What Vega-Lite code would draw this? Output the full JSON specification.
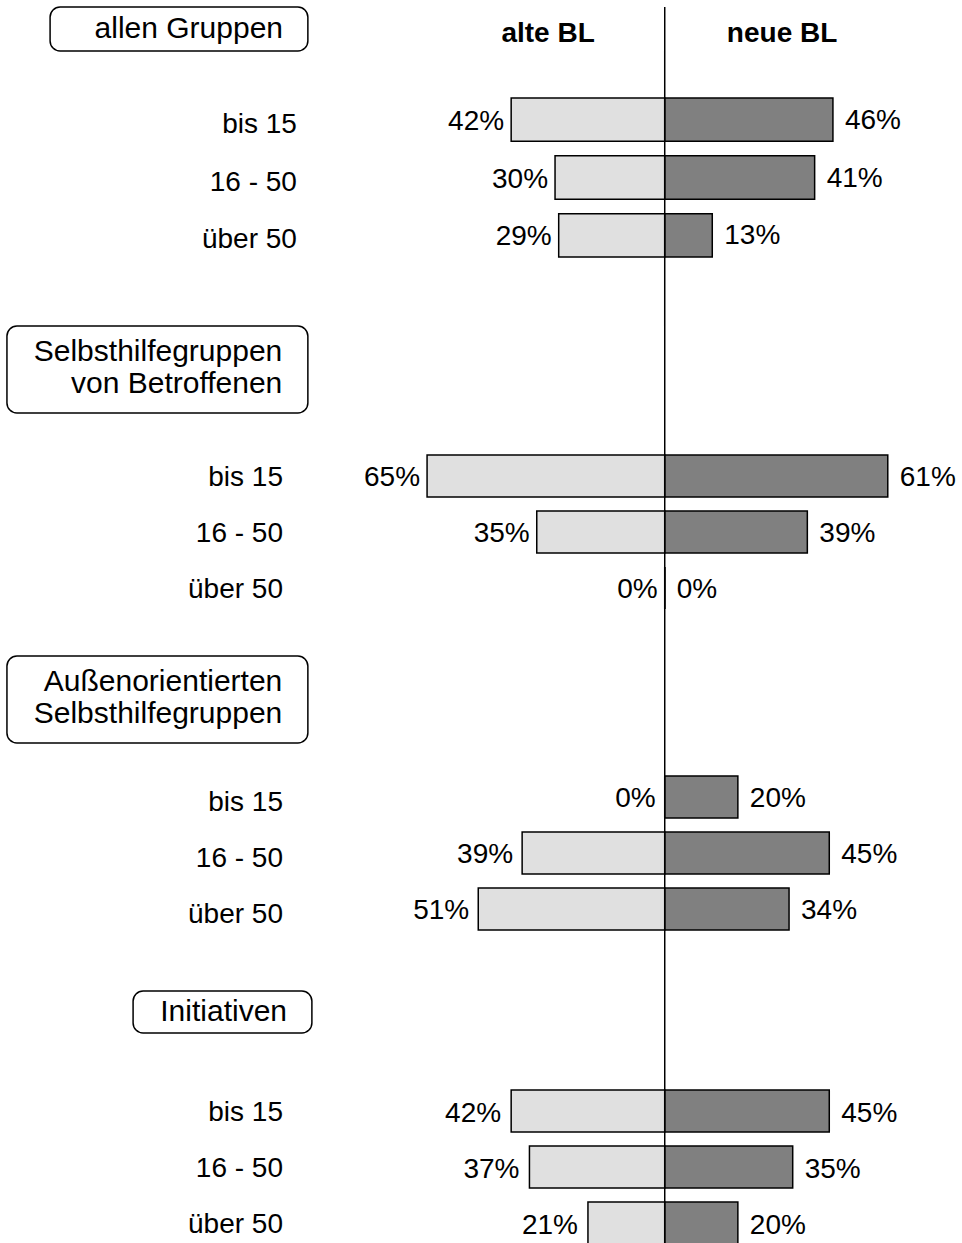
{
  "$schema": "https://vega.github.io/schema/vega-lite/v6.json",
  "background": "white",
  "padding": {"top": 6, "left": 0, "right": 0, "bottom": 0},
  "spacing": 0,
  "bounds": "flush",
  "config": {
    "view": {"stroke": null},
    "concat": {"spacing": 0},
    "text": {"font": "Liberation Sans", "fontSize": 28, "color": "black", "baseline": "middle"}
  },
  "datasets": {
    "bars": [
      {"gruppe": "allen Gruppen", "alter": "bis 15", "region": "alte BL", "anteil": 0.42},
      {"gruppe": "allen Gruppen", "alter": "16 - 50", "region": "alte BL", "anteil": 0.30},
      {"gruppe": "allen Gruppen", "alter": "über 50", "region": "alte BL", "anteil": 0.29},
      {"gruppe": "allen Gruppen", "alter": "bis 15", "region": "neue BL", "anteil": 0.46},
      {"gruppe": "allen Gruppen", "alter": "16 - 50", "region": "neue BL", "anteil": 0.41},
      {"gruppe": "allen Gruppen", "alter": "über 50", "region": "neue BL", "anteil": 0.13},
      {"gruppe": "Selbsthilfegruppen von Betroffenen", "alter": "bis 15", "region": "alte BL", "anteil": 0.65},
      {"gruppe": "Selbsthilfegruppen von Betroffenen", "alter": "16 - 50", "region": "alte BL", "anteil": 0.35},
      {"gruppe": "Selbsthilfegruppen von Betroffenen", "alter": "über 50", "region": "alte BL", "anteil": 0},
      {"gruppe": "Selbsthilfegruppen von Betroffenen", "alter": "bis 15", "region": "neue BL", "anteil": 0.61},
      {"gruppe": "Selbsthilfegruppen von Betroffenen", "alter": "16 - 50", "region": "neue BL", "anteil": 0.39},
      {"gruppe": "Selbsthilfegruppen von Betroffenen", "alter": "über 50", "region": "neue BL", "anteil": 0},
      {"gruppe": "Außenorientierten Selbsthilfegruppen", "alter": "bis 15", "region": "alte BL", "anteil": 0},
      {"gruppe": "Außenorientierten Selbsthilfegruppen", "alter": "16 - 50", "region": "alte BL", "anteil": 0.39},
      {"gruppe": "Außenorientierten Selbsthilfegruppen", "alter": "über 50", "region": "alte BL", "anteil": 0.51},
      {"gruppe": "Außenorientierten Selbsthilfegruppen", "alter": "bis 15", "region": "neue BL", "anteil": 0.20},
      {"gruppe": "Außenorientierten Selbsthilfegruppen", "alter": "16 - 50", "region": "neue BL", "anteil": 0.45},
      {"gruppe": "Außenorientierten Selbsthilfegruppen", "alter": "über 50", "region": "neue BL", "anteil": 0.34},
      {"gruppe": "Initiativen", "alter": "bis 15", "region": "alte BL", "anteil": 0.42},
      {"gruppe": "Initiativen", "alter": "16 - 50", "region": "alte BL", "anteil": 0.37},
      {"gruppe": "Initiativen", "alter": "über 50", "region": "alte BL", "anteil": 0.21},
      {"gruppe": "Initiativen", "alter": "bis 15", "region": "neue BL", "anteil": 0.45},
      {"gruppe": "Initiativen", "alter": "16 - 50", "region": "neue BL", "anteil": 0.35},
      {"gruppe": "Initiativen", "alter": "über 50", "region": "neue BL", "anteil": 0.20}
    ]
  },
  "vconcat": [
    {
      "width": 962, "height": 44,
      "data": {"values": [{"titel": "allen Gruppen", "links": "alte BL", "rechts": "neue BL"}]},
      "layer": [
        {
          "encoding": {"x": {"datum": 1.681, "type": "quantitative", "scale": {"domain": [-0.813, 1.818], "reverse": true, "nice": false, "zero": false}, "axis": null}},
          "layer": [
            {"mark": {"type": "rect", "fill": "white", "stroke": "black", "strokeWidth": 1.5, "cornerRadius": 10}, "encoding": {"x2": {"datum": 0.976}}},
            {"mark": {"type": "text", "align": "right", "fontSize": 30}, "encoding": {"x": {"datum": 1.044, "type": "quantitative"}, "text": {"field": "titel"}}},
            {"mark": {"type": "text", "align": "center", "fontWeight": "bold", "fontSize": 28, "dy": 5}, "encoding": {"x": {"datum": 0.319, "type": "quantitative"}, "text": {"field": "links"}}}
          ]
        },
        {
          "encoding": {"x": {"datum": 0, "type": "quantitative", "scale": {"domain": [-1.818, 0.813], "nice": false, "zero": false}, "axis": null}},
          "layer": [
            {"mark": {"type": "rule", "color": "black", "strokeWidth": 1.5}, "encoding": {}},
            {"mark": {"type": "text", "align": "center", "fontWeight": "bold", "fontSize": 28, "dy": 5}, "encoding": {"x": {"datum": 0.321, "type": "quantitative"}, "text": {"field": "rechts"}}}
          ]
        }
      ],
      "resolve": {"scale": {"x": "independent"}}
    },
    {
      "width": 962, "height": 275,
      "data": {"name": "bars"},
      "transform": [{"filter": "datum.gruppe == 'allen Gruppen'"}],
      "layer": [
        {
          "transform": [{"filter": "datum.region == 'alte BL'"}],
          "encoding": {
            "y": {"field": "alter", "type": "nominal", "scale": {"domain": ["bis 15", "16 - 50", "über 50"], "paddingInner": 0.25, "paddingOuter": 1.0804, "align": 0.405}, "axis": null},
            "x": {"field": "anteil", "type": "quantitative", "scale": {"domain": [-0.813, 1.818], "reverse": true, "nice": false, "zero": false}, "axis": null}
          },
          "layer": [
            {"mark": {"type": "bar", "fill": "#e0e0e0", "stroke": "black", "strokeWidth": 1.5}, "encoding": {"x2": {"datum": 0}}},
            {"mark": {"type": "text", "align": "right", "dx": -7, "dy": 2}, "encoding": {"text": {"field": "anteil", "type": "quantitative", "format": ".0%"}}},
            {"mark": {"type": "text", "align": "right", "dy": 5}, "encoding": {"x": {"datum": 1.006, "type": "quantitative"}, "text": {"field": "alter"}}}
          ]
        },
        {
          "transform": [{"filter": "datum.region == 'neue BL'"}],
          "encoding": {
            "y": {"field": "alter", "type": "nominal", "scale": {"domain": ["bis 15", "16 - 50", "über 50"], "paddingInner": 0.25, "paddingOuter": 1.0804, "align": 0.405}, "axis": null},
            "x": {"field": "anteil", "type": "quantitative", "scale": {"domain": [-1.818, 0.813], "nice": false, "zero": false}, "axis": null}
          },
          "layer": [
            {"mark": {"type": "bar", "fill": "#808080", "stroke": "black", "strokeWidth": 1.5}, "encoding": {"x2": {"datum": 0}}},
            {"mark": {"type": "text", "align": "left", "dx": 12, "dy": 1}, "encoding": {"text": {"field": "anteil", "type": "quantitative", "format": ".0%"}}}
          ]
        },
        {
          "data": {"values": [{"linie": "Mitte"}]},
          "mark": {"type": "rule", "color": "black", "strokeWidth": 1.5},
          "encoding": {"x": {"datum": 0, "type": "quantitative", "scale": {"domain": [-1.818, 0.813], "nice": false, "zero": false}, "axis": null}}
        }
      ],
      "resolve": {"scale": {"x": "independent"}}
    },
    {
      "width": 962, "height": 87,
      "data": {"values": [{"titel": "Selbsthilfegruppen\nvon Betroffenen"}]},
      "layer": [
        {
          "encoding": {"x": {"datum": 1.799, "type": "quantitative", "scale": {"domain": [-0.813, 1.818], "reverse": true, "nice": false, "zero": false}, "axis": null}},
          "layer": [
            {"mark": {"type": "rect", "fill": "white", "stroke": "black", "strokeWidth": 1.5, "cornerRadius": 10}, "encoding": {"x2": {"datum": 0.976}}},
            {"mark": {"type": "text", "align": "right", "fontSize": 30, "lineBreak": "\n", "lineHeight": 32, "dy": -18}, "encoding": {"x": {"datum": 1.046, "type": "quantitative"}, "text": {"field": "titel"}}}
          ]
        },
        {
          "encoding": {"x": {"datum": 0, "type": "quantitative", "scale": {"domain": [-1.818, 0.813], "nice": false, "zero": false}, "axis": null}},
          "layer": [
            {"mark": {"type": "rule", "color": "black", "strokeWidth": 1.5}, "encoding": {}}
          ]
        }
      ],
      "resolve": {"scale": {"x": "independent"}}
    },
    {
      "width": 962, "height": 243,
      "data": {"name": "bars"},
      "transform": [{"filter": "datum.gruppe == 'Selbsthilfegruppen von Betroffenen'"}],
      "layer": [
        {
          "transform": [{"filter": "datum.region == 'alte BL'"}],
          "encoding": {
            "y": {"field": "alter", "type": "nominal", "scale": {"domain": ["bis 15", "16 - 50", "über 50"], "paddingInner": 0.25, "paddingOuter": 0.7946, "align": 0.472}, "axis": null},
            "x": {"field": "anteil", "type": "quantitative", "scale": {"domain": [-0.813, 1.818], "reverse": true, "nice": false, "zero": false}, "axis": null}
          },
          "layer": [
            {"mark": {"type": "bar", "fill": "#e0e0e0", "stroke": "black", "strokeWidth": 1.5}, "encoding": {"x2": {"datum": 0}}},
            {"mark": {"type": "text", "align": "right", "dx": -7, "dy": 2}, "encoding": {"text": {"field": "anteil", "type": "quantitative", "format": ".0%"}}},
            {"mark": {"type": "text", "align": "right", "dy": 2}, "encoding": {"x": {"datum": 1.044, "type": "quantitative"}, "text": {"field": "alter"}}}
          ]
        },
        {
          "transform": [{"filter": "datum.region == 'neue BL'"}],
          "encoding": {
            "y": {"field": "alter", "type": "nominal", "scale": {"domain": ["bis 15", "16 - 50", "über 50"], "paddingInner": 0.25, "paddingOuter": 0.7946, "align": 0.472}, "axis": null},
            "x": {"field": "anteil", "type": "quantitative", "scale": {"domain": [-1.818, 0.813], "nice": false, "zero": false}, "axis": null}
          },
          "layer": [
            {"mark": {"type": "bar", "fill": "#808080", "stroke": "black", "strokeWidth": 1.5}, "encoding": {"x2": {"datum": 0}}},
            {"mark": {"type": "text", "align": "left", "dx": 12, "dy": 2}, "encoding": {"text": {"field": "anteil", "type": "quantitative", "format": ".0%"}}}
          ]
        },
        {
          "data": {"values": [{"linie": "Mitte"}]},
          "mark": {"type": "rule", "color": "black", "strokeWidth": 1.5},
          "encoding": {"x": {"datum": 0, "type": "quantitative", "scale": {"domain": [-1.818, 0.813], "nice": false, "zero": false}, "axis": null}}
        }
      ],
      "resolve": {"scale": {"x": "independent"}}
    },
    {
      "width": 962, "height": 87,
      "data": {"values": [{"titel": "Außenorientierten\nSelbsthilfegruppen"}]},
      "layer": [
        {
          "encoding": {"x": {"datum": 1.799, "type": "quantitative", "scale": {"domain": [-0.813, 1.818], "reverse": true, "nice": false, "zero": false}, "axis": null}},
          "layer": [
            {"mark": {"type": "rect", "fill": "white", "stroke": "black", "strokeWidth": 1.5, "cornerRadius": 10}, "encoding": {"x2": {"datum": 0.976}}},
            {"mark": {"type": "text", "align": "right", "fontSize": 30, "lineBreak": "\n", "lineHeight": 32, "dy": -18}, "encoding": {"x": {"datum": 1.046, "type": "quantitative"}, "text": {"field": "titel"}}}
          ]
        },
        {
          "encoding": {"x": {"datum": 0, "type": "quantitative", "scale": {"domain": [-1.818, 0.813], "nice": false, "zero": false}, "axis": null}},
          "layer": [
            {"mark": {"type": "rule", "color": "black", "strokeWidth": 1.5}, "encoding": {}}
          ]
        }
      ],
      "resolve": {"scale": {"x": "independent"}}
    },
    {
      "width": 962, "height": 248,
      "data": {"name": "bars"},
      "transform": [{"filter": "datum.gruppe == 'Außenorientierten Selbsthilfegruppen'"}],
      "layer": [
        {
          "transform": [{"filter": "datum.region == 'alte BL'"}],
          "encoding": {
            "y": {"field": "alter", "type": "nominal", "scale": {"domain": ["bis 15", "16 - 50", "über 50"], "paddingInner": 0.25, "paddingOuter": 0.8393, "align": 0.351}, "axis": null},
            "x": {"field": "anteil", "type": "quantitative", "scale": {"domain": [-0.813, 1.818], "reverse": true, "nice": false, "zero": false}, "axis": null}
          },
          "layer": [
            {"mark": {"type": "bar", "fill": "#e0e0e0", "stroke": "black", "strokeWidth": 1.5}, "encoding": {"x2": {"datum": 0}}},
            {"mark": {"type": "text", "align": "right", "dx": -9, "dy": 2}, "encoding": {"text": {"field": "anteil", "type": "quantitative", "format": ".0%"}}},
            {"mark": {"type": "text", "align": "right", "dy": 6}, "encoding": {"x": {"datum": 1.044, "type": "quantitative"}, "text": {"field": "alter"}}}
          ]
        },
        {
          "transform": [{"filter": "datum.region == 'neue BL'"}],
          "encoding": {
            "y": {"field": "alter", "type": "nominal", "scale": {"domain": ["bis 15", "16 - 50", "über 50"], "paddingInner": 0.25, "paddingOuter": 0.8393, "align": 0.351}, "axis": null},
            "x": {"field": "anteil", "type": "quantitative", "scale": {"domain": [-1.818, 0.813], "nice": false, "zero": false}, "axis": null}
          },
          "layer": [
            {"mark": {"type": "bar", "fill": "#808080", "stroke": "black", "strokeWidth": 1.5}, "encoding": {"x2": {"datum": 0}}},
            {"mark": {"type": "text", "align": "left", "dx": 12, "dy": 2}, "encoding": {"text": {"field": "anteil", "type": "quantitative", "format": ".0%"}}}
          ]
        },
        {
          "data": {"values": [{"linie": "Mitte"}]},
          "mark": {"type": "rule", "color": "black", "strokeWidth": 1.5},
          "encoding": {"x": {"datum": 0, "type": "quantitative", "scale": {"domain": [-1.818, 0.813], "nice": false, "zero": false}, "axis": null}}
        }
      ],
      "resolve": {"scale": {"x": "independent"}}
    },
    {
      "width": 962, "height": 42,
      "data": {"values": [{"titel": "Initiativen"}]},
      "layer": [
        {
          "encoding": {"x": {"datum": 1.454, "type": "quantitative", "scale": {"domain": [-0.813, 1.818], "reverse": true, "nice": false, "zero": false}, "axis": null}},
          "layer": [
            {"mark": {"type": "rect", "fill": "white", "stroke": "black", "strokeWidth": 1.5, "cornerRadius": 10}, "encoding": {"x2": {"datum": 0.965}}},
            {"mark": {"type": "text", "align": "right", "fontSize": 30}, "encoding": {"x": {"datum": 1.033, "type": "quantitative"}, "text": {"field": "titel"}}}
          ]
        },
        {
          "encoding": {"x": {"datum": 0, "type": "quantitative", "scale": {"domain": [-1.818, 0.813], "nice": false, "zero": false}, "axis": null}},
          "layer": [
            {"mark": {"type": "rule", "color": "black", "strokeWidth": 1.5}, "encoding": {}}
          ]
        }
      ],
      "resolve": {"scale": {"x": "independent"}}
    },
    {
      "width": 962, "height": 211,
      "data": {"name": "bars"},
      "transform": [{"filter": "datum.gruppe == 'Initiativen'"}],
      "layer": [
        {
          "transform": [{"filter": "datum.region == 'alte BL'"}],
          "encoding": {
            "y": {"field": "alter", "type": "nominal", "scale": {"domain": ["bis 15", "16 - 50", "über 50"], "paddingInner": 0.25, "paddingOuter": 0.5089, "align": 1}, "axis": null},
            "x": {"field": "anteil", "type": "quantitative", "scale": {"domain": [-0.813, 1.818], "reverse": true, "nice": false, "zero": false}, "axis": null}
          },
          "layer": [
            {"mark": {"type": "bar", "fill": "#e0e0e0", "stroke": "black", "strokeWidth": 1.5}, "encoding": {"x2": {"datum": 0}}},
            {"mark": {"type": "text", "align": "right", "dx": -10, "dy": 3}, "encoding": {"text": {"field": "anteil", "type": "quantitative", "format": ".0%"}}},
            {"mark": {"type": "text", "align": "right", "dy": 2}, "encoding": {"x": {"datum": 1.044, "type": "quantitative"}, "text": {"field": "alter"}}}
          ]
        },
        {
          "transform": [{"filter": "datum.region == 'neue BL'"}],
          "encoding": {
            "y": {"field": "alter", "type": "nominal", "scale": {"domain": ["bis 15", "16 - 50", "über 50"], "paddingInner": 0.25, "paddingOuter": 0.5089, "align": 1}, "axis": null},
            "x": {"field": "anteil", "type": "quantitative", "scale": {"domain": [-1.818, 0.813], "nice": false, "zero": false}, "axis": null}
          },
          "layer": [
            {"mark": {"type": "bar", "fill": "#808080", "stroke": "black", "strokeWidth": 1.5}, "encoding": {"x2": {"datum": 0}}},
            {"mark": {"type": "text", "align": "left", "dx": 12, "dy": 3}, "encoding": {"text": {"field": "anteil", "type": "quantitative", "format": ".0%"}}}
          ]
        },
        {
          "data": {"values": [{"linie": "Mitte"}]},
          "mark": {"type": "rule", "color": "black", "strokeWidth": 1.5},
          "encoding": {"x": {"datum": 0, "type": "quantitative", "scale": {"domain": [-1.818, 0.813], "nice": false, "zero": false}, "axis": null}}
        }
      ],
      "resolve": {"scale": {"x": "independent"}}
    }
  ]
}
